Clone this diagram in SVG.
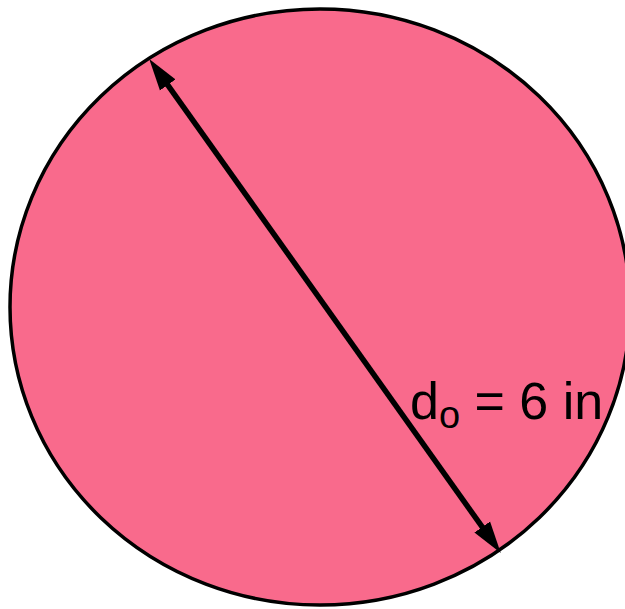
<svg xmlns="http://www.w3.org/2000/svg" width="625" height="609" viewBox="0 0 625 609">
  <style>
    .disk { fill: #F96A8C; stroke: #000; stroke-width: 3.5; }
    .dim { stroke: #000; stroke-width: 5.5; fill: none; }
    .lbl { font-family: "Liberation Sans", Arial, sans-serif; fill: #000; }
  </style>
  <defs>
    <marker id="ah" markerUnits="userSpaceOnUse" markerWidth="32" markerHeight="20" viewBox="0 0 30 18" refX="10" refY="9" orient="auto-start-reverse">
      <path d="M0,0 L30,9 L0,18 z" fill="#000"/>
    </marker>
  </defs>
  <g id="circle">
    <ellipse class="disk" cx="320" cy="307" rx="310" ry="298"/>
  </g>
  <g id="connectors">
    <line class="dim" x1="161.6" y1="76.3" x2="488.4" y2="535.7" marker-start="url(#ah)" marker-end="url(#ah)"/>
  </g>
  <g id="label">
    <text class="lbl" x="410" y="419" font-size="52">d<tspan font-size="38" dy="9">o</tspan><tspan dy="-9"> = 6 in</tspan></text>
  </g>
</svg>
